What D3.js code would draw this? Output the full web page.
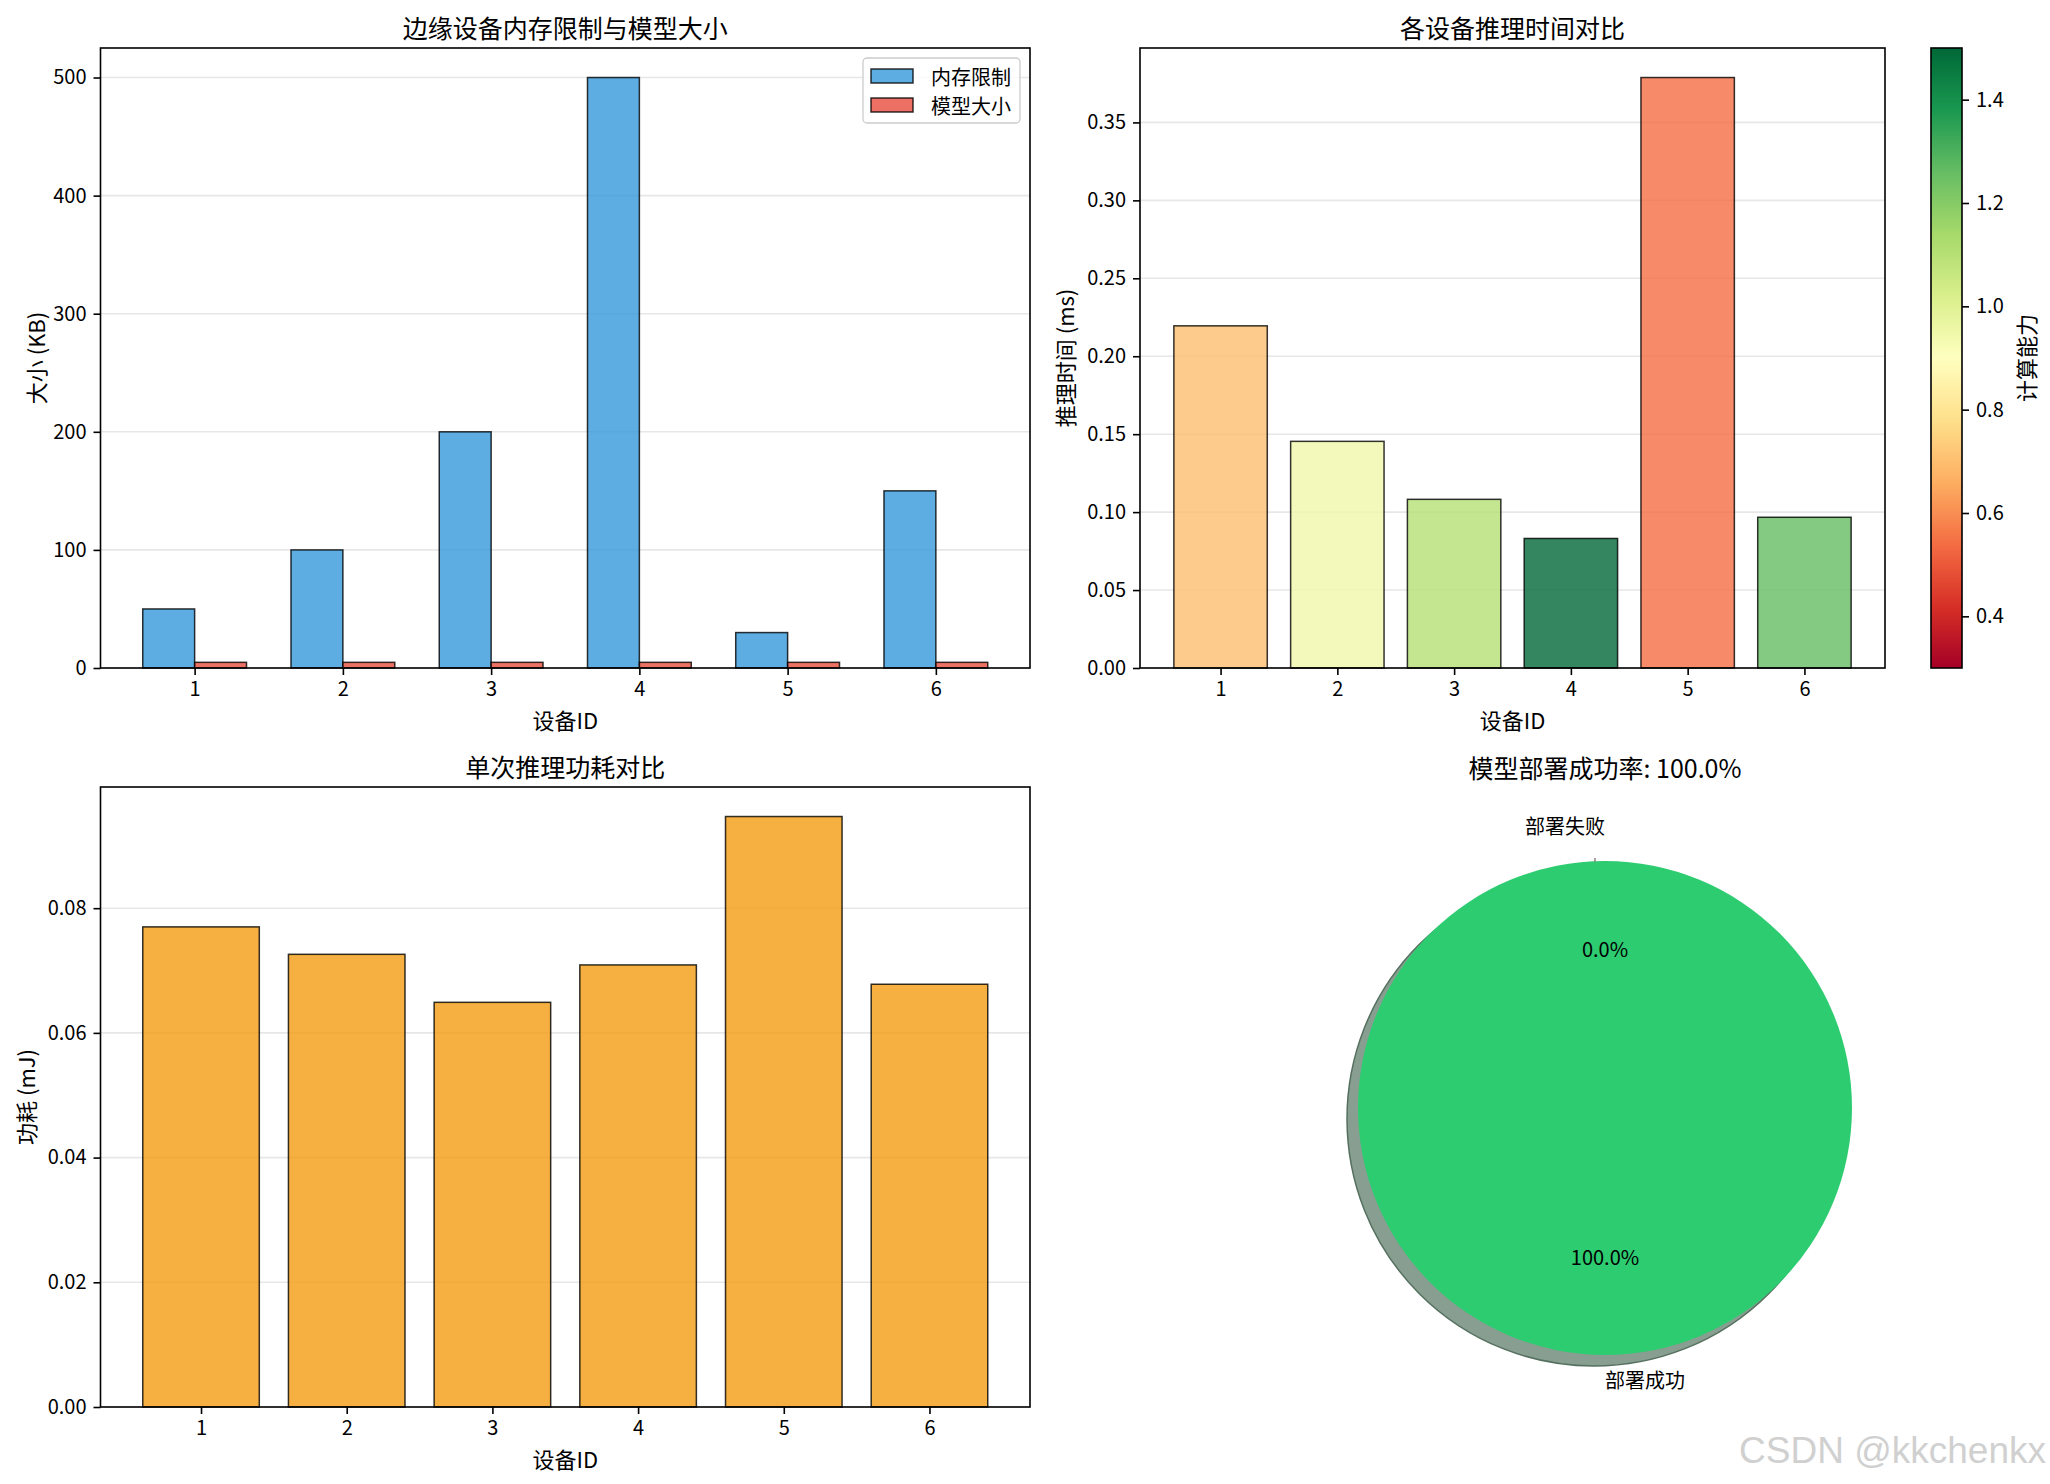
<!DOCTYPE html>
<html>
<head>
<meta charset="utf-8">
<script src="https://d3js.org/d3.v7.min.js"></script>
<style>
  body { margin: 0; background: #fff; }
  text { font-family: 'Noto Sans CJK SC', 'Noto Sans', sans-serif; fill: #000; }
</style>
</head>
<body>
<script>
// ---- data ----
var deviceIds    = [1, 2, 3, 4, 5, 6];
var memoryLimit  = [50, 100, 200, 500, 30, 150];          // KB
var modelSize    = [4.8, 4.8, 4.8, 4.8, 4.8, 4.8];        // KB
var inferTime    = [0.2195, 0.1454, 0.1082, 0.0831, 0.3788, 0.0967]; // ms
var computePower = [0.70, 0.95, 1.10, 1.50, 0.54, 1.26];
var energy       = [0.0770, 0.0726, 0.0649, 0.0709, 0.0947, 0.0678]; // mJ
var pieLabels    = ['部署成功', '部署失败'];
var pieValues    = [100, 0];
var memTicks     = [0, 100, 200, 300, 400, 500];
var timeTicks    = [0, 0.05, 0.10, 0.15, 0.20, 0.25, 0.30, 0.35];
var energyTicks  = [0, 0.02, 0.04, 0.06, 0.08];
var cbarTicks    = [0.4, 0.6, 0.8, 1.0, 1.2, 1.4];
var cbarRange    = [0.3, 1.5];

var W = 2050, H = 1484;
var svg = d3.select('body').append('svg').attr('width', W).attr('height', H);

// matplotlib RdYlGn (linear between the 11 anchor colours)
var rdylgn = d3.scaleLinear()
  .domain(d3.range(11).map(function(i){ return i / 10; }))
  .range(d3.schemeRdYlGn[11])
  .interpolate(d3.interpolateRgb);
var norm = d3.scaleLinear().domain(cbarRange).range([0, 1]).clamp(true);

function styleAxis(sel) {
  sel.select('.domain').remove();
  sel.selectAll('.tick line').attr('stroke', '#000').attr('stroke-width', 1.6);
  sel.selectAll('.tick text').style('font-size', '20px');
}

// one matplotlib-like axes box
function makeAxes(p, xdom, ydom, yticks, yfmt, title, xlabel, ylabel, ylabelX) {
  var g = svg.append('g');
  var x = d3.scaleLinear().domain(xdom).range([p.x0, p.x1]);
  var y = d3.scaleLinear().domain(ydom).range([p.y1, p.y0]);
  g.append('g').selectAll('line').data(yticks).enter().append('line')
    .attr('x1', p.x0).attr('x2', p.x1)
    .attr('y1', function(d){ return y(d); }).attr('y2', function(d){ return y(d); })
    .attr('stroke', '#b0b0b0').attr('stroke-opacity', 0.3).attr('stroke-width', 1.6);
  var marks = g.append('g');
  var top = g.append('g');
  top.append('g').attr('transform', 'translate(0,' + p.y1 + ')')
    .call(d3.axisBottom(x).tickValues(deviceIds).tickFormat(d3.format('d')).tickSize(7).tickPadding(7))
    .call(styleAxis);
  top.append('g').attr('transform', 'translate(' + p.x0 + ',0)')
    .call(d3.axisLeft(y).tickValues(yticks).tickFormat(yfmt).tickSize(7).tickPadding(7))
    .call(styleAxis);
  top.append('rect').attr('x', p.x0).attr('y', p.y0)
    .attr('width', p.x1 - p.x0).attr('height', p.y1 - p.y0)
    .attr('fill', 'none').attr('stroke', '#000').attr('stroke-width', 1.6);
  var cx = (p.x0 + p.x1) / 2;
  top.append('text').attr('x', cx).attr('y', p.y0 - 21)
    .attr('text-anchor', 'middle').attr('dominant-baseline', 'central')
    .style('font-size', '25px').text(title);
  top.append('text').attr('x', cx).attr('y', p.y1 + 51)
    .attr('text-anchor', 'middle').attr('dominant-baseline', 'central')
    .style('font-size', '22px').text(xlabel);
  top.append('text')
    .attr('transform', 'translate(' + ylabelX + ',' + ((p.y0 + p.y1) / 2) + ') rotate(-90)')
    .attr('text-anchor', 'middle').attr('dominant-baseline', 'central')
    .style('font-size', '22px').text(ylabel);
  return { marks: marks, top: top, x: x, y: y };
}

// ---- 1. memory limit vs model size ----
var p1 = { x0: 100.5, x1: 1030, y0: 48, y1: 668 };
var bw = 0.35;
var a1 = makeAxes(p1, [1 - bw - 0.285, 6 + bw + 0.285], [0, d3.max(memoryLimit) * 1.05],
  memTicks, d3.format('d'), '边缘设备内存限制与模型大小', '设备ID', '大小 (KB)', 35);

var series1 = [
  { name: '内存限制', values: memoryLimit, color: '#3498db', off: -bw },
  { name: '模型大小', values: modelSize,   color: '#e74c3c', off: 0 }
];
series1.forEach(function(s) {
  a1.marks.selectAll(null).data(s.values).enter().append('rect')
    .attr('x', function(d, i){ return a1.x(deviceIds[i] + s.off); })
    .attr('width', function(d, i){ return a1.x(deviceIds[i] + s.off + bw) - a1.x(deviceIds[i] + s.off); })
    .attr('y', function(d){ return a1.y(d); })
    .attr('height', function(d){ return a1.y(0) - a1.y(d); })
    .attr('fill', s.color).attr('fill-opacity', 0.8)
    .attr('stroke', '#000').attr('stroke-opacity', 0.8).attr('stroke-width', 1.5);
});

// legend
var lg = a1.top.append('g');
lg.append('rect').attr('x', 863).attr('y', 58).attr('width', 157).attr('height', 65)
  .attr('rx', 4).attr('fill', '#fff').attr('fill-opacity', 0.8)
  .attr('stroke', '#cccccc').attr('stroke-width', 1.3);
series1.forEach(function(s, i) {
  var yy = 76 + i * 29;
  lg.append('rect').attr('x', 871).attr('y', yy - 7).attr('width', 42).attr('height', 14)
    .attr('fill', s.color).attr('fill-opacity', 0.8)
    .attr('stroke', '#000').attr('stroke-opacity', 0.8).attr('stroke-width', 1.5);
  lg.append('text').attr('x', 931).attr('y', yy).attr('dominant-baseline', 'central')
    .style('font-size', '20px').text(s.name);
});

// ---- 2. inference time coloured by compute power ----
var p2 = { x0: 1140, x1: 1885, y0: 48, y1: 668 };
var a2 = makeAxes(p2, [0.31, 6.69], [0, d3.max(inferTime) * 1.05],
  timeTicks, d3.format('.2f'), '各设备推理时间对比', '设备ID', '推理时间 (ms)', 1064);

a2.marks.selectAll(null).data(inferTime).enter().append('rect')
  .attr('x', function(d, i){ return a2.x(deviceIds[i] - 0.4); })
  .attr('width', function(d, i){ return a2.x(deviceIds[i] + 0.4) - a2.x(deviceIds[i] - 0.4); })
  .attr('y', function(d){ return a2.y(d); })
  .attr('height', function(d){ return a2.y(0) - a2.y(d); })
  .attr('fill', function(d, i){ return rdylgn(norm(computePower[i])); }).attr('fill-opacity', 0.8)
  .attr('stroke', '#000').attr('stroke-opacity', 0.8).attr('stroke-width', 1.5);

// colorbar
var cb = { x0: 1931, x1: 1962, y0: 48, y1: 668 };
var cy = d3.scaleLinear().domain(cbarRange).range([cb.y1, cb.y0]);
var grad = svg.append('defs').append('linearGradient').attr('id', 'cbar')
  .attr('x1', 0).attr('y1', 1).attr('x2', 0).attr('y2', 0);
grad.selectAll('stop').data(d3.range(11)).enter().append('stop')
  .attr('offset', function(d){ return d / 10; })
  .attr('stop-color', function(d){ return rdylgn(d / 10); });
var cbg = svg.append('g');
cbg.append('rect').attr('x', cb.x0).attr('y', cb.y0)
  .attr('width', cb.x1 - cb.x0).attr('height', cb.y1 - cb.y0)
  .attr('fill', 'url(#cbar)').attr('stroke', '#000').attr('stroke-width', 1.6);
cbg.append('g').attr('transform', 'translate(' + cb.x1 + ',0)')
  .call(d3.axisRight(cy).tickValues(cbarTicks).tickFormat(d3.format('.1f')).tickSize(7).tickPadding(7))
  .call(styleAxis);
cbg.append('text')
  .attr('transform', 'translate(2025,' + ((cb.y0 + cb.y1) / 2) + ') rotate(-90)')
  .attr('text-anchor', 'middle').attr('dominant-baseline', 'central')
  .style('font-size', '22px').text('计算能力');

// ---- 3. energy per inference ----
var p3 = { x0: 100.5, x1: 1030, y0: 787, y1: 1407 };
var a3 = makeAxes(p3, [0.31, 6.69], [0, d3.max(energy) * 1.05],
  energyTicks, d3.format('.2f'), '单次推理功耗对比', '设备ID', '功耗 (mJ)', 25);

a3.marks.selectAll(null).data(energy).enter().append('rect')
  .attr('x', function(d, i){ return a3.x(deviceIds[i] - 0.4); })
  .attr('width', function(d, i){ return a3.x(deviceIds[i] + 0.4) - a3.x(deviceIds[i] - 0.4); })
  .attr('y', function(d){ return a3.y(d); })
  .attr('height', function(d){ return a3.y(0) - a3.y(d); })
  .attr('fill', '#f39c12').attr('fill-opacity', 0.8)
  .attr('stroke', '#000').attr('stroke-opacity', 0.8).attr('stroke-width', 1.5);

// ---- 4. deployment success pie ----
var pcx = 1605, pcy = 1108, pr = 247;
var pieColors = ['#2ecc71', '#e74c3c'];
var pieAnchor = ['start', 'end'];   // matplotlib puts these on opposite sides of the centre
var total = d3.sum(pieValues);
var arcs = d3.pie().sort(null).startAngle(0).endAngle(2 * Math.PI)(pieValues);
var arcGen = d3.arc().innerRadius(0).outerRadius(pr);
var pg = svg.append('g').attr('transform', 'translate(' + pcx + ',' + pcy + ')');

pg.append('g').attr('transform', 'translate(-11,11)').selectAll('path').data(arcs).enter()
  .append('path').attr('d', arcGen)
  .attr('fill', '#879e90').attr('stroke', '#55705f').attr('stroke-width', 1.5);
pg.append('g').selectAll('path').data(arcs).enter()
  .append('path').attr('d', arcGen)
  .attr('fill', function(d, i){ return pieColors[i]; });
// zero-size wedge shows only as a tick at its angle
arcs.forEach(function(d) {
  if (d.endAngle - d.startAngle > 0) return;
  var a = d.startAngle;
  pg.append('line')
    .attr('x1', Math.sin(a) * (pr - 1) - 10).attr('y1', -Math.cos(a) * (pr - 1))
    .attr('x2', Math.sin(a) * (pr + 3) - 10).attr('y2', -Math.cos(a) * (pr + 3))
    .attr('stroke', '#8f8080').attr('stroke-width', 1.5);
});

arcs.forEach(function(d, i) {
  var a = (d.startAngle + d.endAngle) / 2;
  var ux = Math.sin(a), uy = -Math.cos(a);
  var shift = uy < 0 ? -11 : 0;      // text above the centre sits a little higher
  pg.append('text').attr('x', ux * pr * 1.1).attr('y', uy * pr * 1.1 + shift)
    .attr('text-anchor', pieAnchor[i]).attr('dominant-baseline', 'central')
    .style('font-size', '20px').text(pieLabels[i]);
  pg.append('text').attr('x', ux * pr * 0.6).attr('y', uy * pr * 0.6 + shift)
    .attr('text-anchor', 'middle').attr('dominant-baseline', 'central')
    .style('font-size', '20px').text(d3.format('.1f')(d.value / total * 100) + '%');
});

svg.append('text').attr('x', pcx).attr('y', 767)
  .attr('text-anchor', 'middle').attr('dominant-baseline', 'central')
  .style('font-size', '25px')
  .text('模型部署成功率: ' + d3.format('.1f')(pieValues[0] / total * 100) + '%');

// watermark
svg.append('text').attr('x', 2046).attr('y', 1463).attr('text-anchor', 'end')
  .style('font-family', "'Liberation Sans', Arial, sans-serif")
  .style('font-size', '37px').style('fill', '#d0d0d0')
  .text('CSDN @kkchenkx');
</script>
</body>
</html>
